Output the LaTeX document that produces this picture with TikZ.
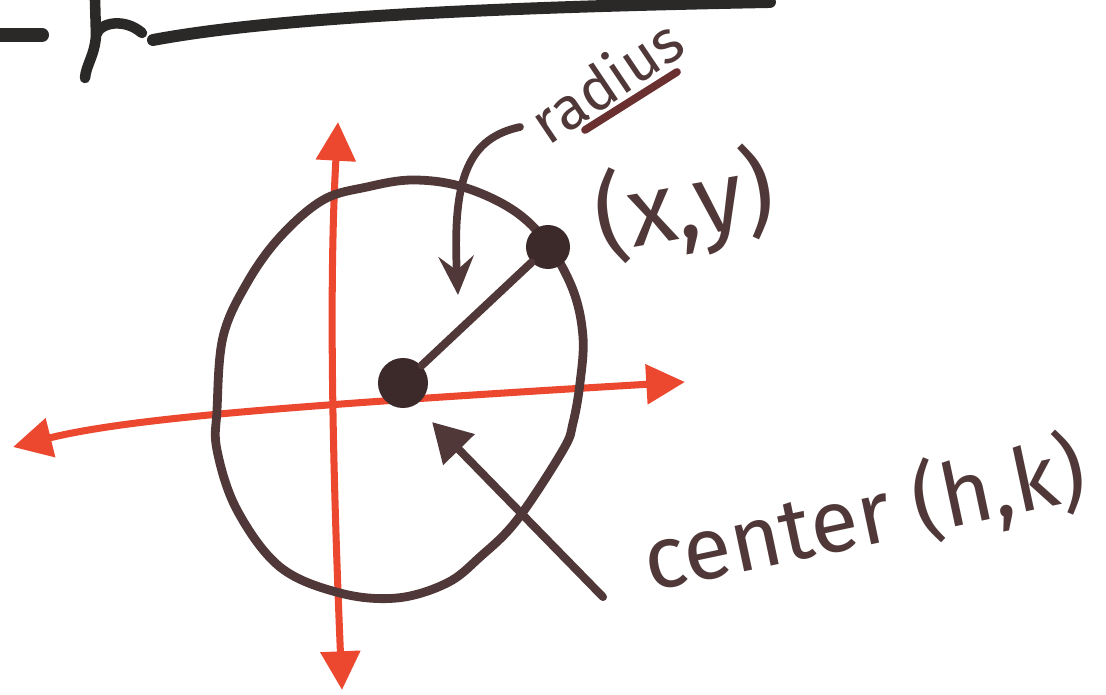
\documentclass[tikz,border=0pt]{standalone}
\usepackage{fontspec}
\setmainfont{Fira Sans}
\usepackage{xcolor}
\usetikzlibrary{positioning, arrows.meta}
\definecolor{ink}{RGB}{80,56,56}
\definecolor{pen}{RGB}{236,72,48}
\definecolor{marker}{RGB}{43,40,40}

\begin{document}
\begin{tikzpicture}[x=0.01cm, y=-0.01cm, line cap=round, line join=round,
  ax/.style={draw=pen, line width=2pt, {Triangle[length=11pt, width=11pt]}-{Triangle[length=11pt, width=11pt]}},
  ring/.style={draw=ink, line width=2.5pt},
  dot/.style={circle, fill=ink!75!black, inner sep=0pt, minimum size=#1},
  lbl/.style={text=ink, inner sep=0pt}]
\useasboundingbox (0,0) rectangle (1106,695);
\draw[marker, line width=4pt] (0,35) -- (42,35);
\draw[marker, line width=3pt] (95,0) -- (96,35) .. controls (95,55) and (86,65) .. (85,78);
\draw[marker, line width=3pt] (96,35) .. controls (100,22) and (125,18) .. (142,33);
\draw[marker, line width=3.4pt] (153,40) .. controls (260,20) and (450,8) .. (770,2);
\coordinate (vt) at (338,122); \coordinate (vb) at (342,690);
\coordinate (hl) at (13,447); \coordinate (hr) at (685,382);
\draw[ax] (vt) .. controls (328,300) and (334,500) .. (vb);
\draw[ax] (hl) .. controls (130,418) and (300,405) .. (hr);
\draw[ring] plot[smooth cycle, tension=0.6] coordinates {(413,180) (463,187) (513,210)
  (547,243) (573,290) (583,337) (580,383) (573,423) (563,450) (517,520) (480,557)
  (447,583) (397,598) (340,593) (280,567) (237,510) (217,450) (217,410) (223,337)
  (247,283) (280,237) (323,200) (367,187)};
\node[dot=0.5cm] (C) at (403,383) {};
\node[dot=0.44cm] (P) at (548,247) {};
\draw[ring, line width=2.3pt] (C) -- (P);
\node[lbl, rotate=34, font=\fontsize{17}{19}\selectfont] (rad) at (606,80) {radius};
\coordinate (ra) at (520,127); \coordinate (rb) at (458,295);
\coordinate (ua) at (585,130); \coordinate (ub) at (677,72);
\draw[ring, line width=2.2pt, -{Stealth[length=11pt, width=10pt, inset=4pt]}] (ra) .. controls (470,138) and (452,175) .. (rb);
\draw[draw=ink!85!red, line width=2.2pt] (ua) -- (ub);
\node[lbl, rotate=10, font=\fontsize{28}{30}\selectfont] (pt) at (685,207) {(x,y)};
\node[lbl, rotate=12, font=\fontsize{25}{27}\selectfont] (ctr) at (864,516) {center (h,k)};
\coordinate (ca) at (603,597); \coordinate (ct) at (432,422);
\draw[ring, line width=2.3pt, -{Triangle[length=11pt, width=12pt]}] (ca) -- (ct);
\end{tikzpicture}
\end{document}
